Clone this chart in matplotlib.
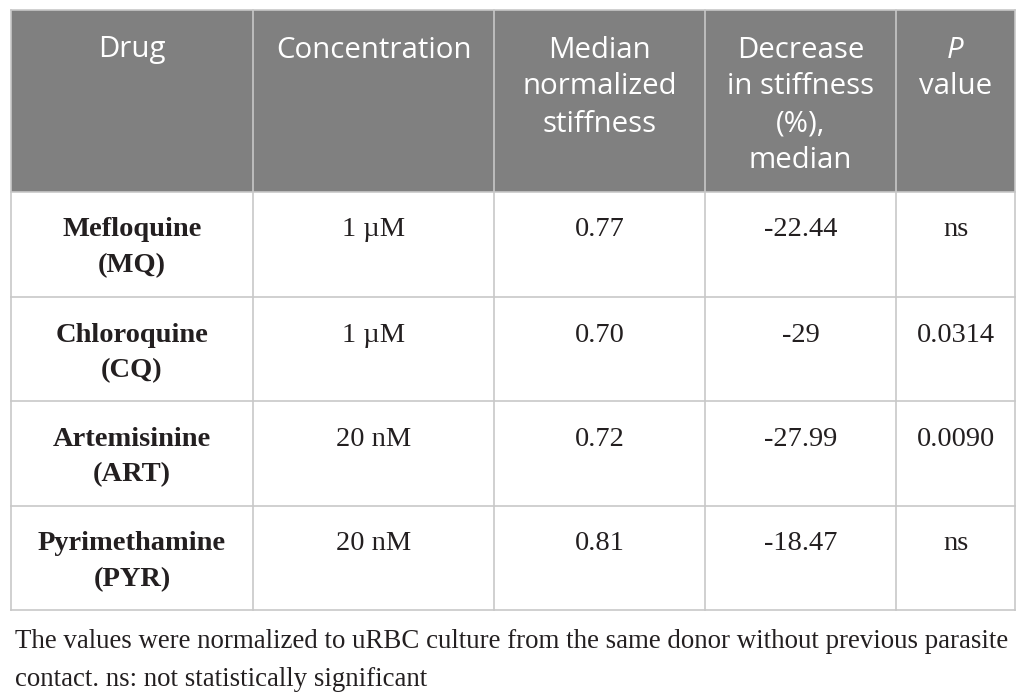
import matplotlib
matplotlib.use("Agg")
import matplotlib.pyplot as plt
from matplotlib.patches import Rectangle

# table content
headers = ["Drug", "Concentration", "Median\nnormalized\nstiffness",
           "Decrease\nin stiffness\n(%),\nmedian", "P\nvalue"]
drugs = ["Mefloquine\n(MQ)", "Chloroquine\n(CQ)", "Artemisinine\n(ART)", "Pyrimethamine\n(PYR)"]
concentrations = ["1 \u00b5M", "1 \u00b5M", "20 nM", "20 nM"]
median_stiffness = ["0.77", "0.70", "0.72", "0.81"]
decrease_pct = ["-22.44", "-29", "-27.99", "-18.47"]
p_values = ["ns", "0.0314", "0.0090", "ns"]
footnote = ["The values were normalized to uRBC culture from the same donor without previous parasite",
            "contact. ns: not statistically significant"]

W, H = 1026, 699
col_edges = [11, 253, 494, 705, 896, 1015]
row_edges = [10, 192, 297, 401, 506, 610]

HEAD_BG = "#808080"
GRID = "#c8c8c8"
TXT = "#231f20"
SANS = ["Open Sans", "DejaVu Sans"]
SERIF = ["Liberation Serif", "DejaVu Serif"]

fig = plt.figure(figsize=(W / 100, H / 100), dpi=100)
ax = fig.add_axes([0, 0, 1, 1])
ax.set_xlim(0, W)
ax.set_ylim(H, 0)
ax.axis("off")

# header background
ax.add_patch(Rectangle((col_edges[0], row_edges[0]), col_edges[-1] - col_edges[0],
                       row_edges[1] - row_edges[0], facecolor=HEAD_BG, edgecolor="none"))

# grid lines
for x in col_edges:
    ax.plot([x, x], [row_edges[0], row_edges[-1]], color=GRID, lw=1.2)
for y in row_edges:
    ax.plot([col_edges[0], col_edges[-1]], [y, y], color=GRID, lw=1.2)

centers = [(col_edges[i] + col_edges[i + 1]) / 2 for i in range(len(col_edges) - 1)]

# header text
head_first, head_step = 40, 37
for j, h in enumerate(headers):
    for k, line in enumerate(h.split("\n")):
        style = "italic" if (j == 4 and k == 0) else "normal"
        ax.text(centers[j], row_edges[0] + head_first + k * head_step, line,
                ha="center", va="center", color="white", fontsize=21.2,
                family=SANS, style=style)

# body text
body_first, body_step = 38, 36
columns = [drugs, concentrations, median_stiffness, decrease_pct, p_values]
for j, col in enumerate(columns):
    for i, cell in enumerate(col):
        for k, line in enumerate(cell.split("\n")):
            ax.text(centers[j], row_edges[i + 1] + body_first + k * body_step, line,
                    ha="center", va="center", color=TXT, fontsize=20.5,
                    family=SERIF, weight="bold" if j == 0 else "normal")

# footnote
for k, line in enumerate(footnote):
    ax.text(15, 648 + k * 38, line, ha="left", va="baseline", color=TXT,
            fontsize=19.4, family=SERIF)

fig.savefig("out.png", dpi=100, facecolor="white")
